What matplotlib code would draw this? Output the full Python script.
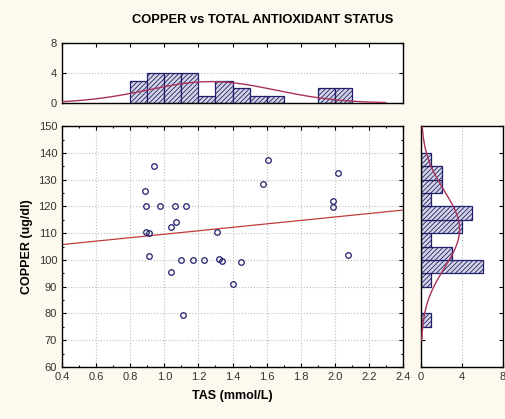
import numpy as np
import matplotlib
matplotlib.use("Agg")
import matplotlib.pyplot as plt
from matplotlib.ticker import MultipleLocator, FormatStrFormatter

# scatter values
tas = [0.884, 0.892, 0.942, 0.974, 1.06, 1.128, 0.89, 0.913, 1.042, 1.071,
       1.307, 0.913, 1.10, 1.171, 1.235, 1.319, 1.338, 1.45, 1.042, 1.403,
       1.112, 1.608, 1.58, 2.016, 1.988, 1.988, 2.076]
copper = [125.6, 120, 135, 120, 120, 120, 110.6, 110, 112.3, 114.1,
          110.5, 101.3, 100, 100, 100, 100.4, 99.7, 99.2, 95.5, 91,
          79.6, 137.3, 128.5, 132.6, 122.2, 119.9, 102]

# histogram of TAS (bin width 0.1)
tas_bins = [0.8, 0.9, 1.0, 1.1, 1.2, 1.3, 1.4, 1.5, 1.6, 1.9, 2.0]
tas_counts = [3, 4, 4, 4, 1, 3, 2, 1, 1, 2, 2]

# histogram of COPPER (bin width 5)
cu_bins = [75, 90, 95, 100, 105, 110, 115, 120, 125, 130, 135]
cu_counts = [1, 1, 6, 3, 1, 4, 5, 1, 2, 2, 1]

title = "COPPER vs TOTAL ANTIOXIDANT STATUS"
xlabel = "TAS (mmol/L)"
ylabel = "COPPER (ug/dl)"

plt.rcParams['font.family'] = ['Liberation Sans', 'DejaVu Sans']
plt.rcParams['hatch.linewidth'] = 0.6

bg = '#fdf9ee'
navy = '#1f1f6b'
bar_fill = '#d4d4e4'
red = '#c23a3a'
curve = '#a8325a'
tick_col = '#333333'
grid_col = '#bdbdbd'

fig = plt.figure(figsize=(5.05, 4.19), dpi=100, facecolor=bg)
ax = fig.add_axes([0.1228, 0.1241, 0.6752, 0.5749])
axt = fig.add_axes([0.1228, 0.754, 0.6752, 0.143])
axr = fig.add_axes([0.834, 0.1241, 0.162, 0.5749])

# main scatter
ax.plot(tas, copper, 'o', mfc='none', mec=navy, ms=4, mew=0.9, zorder=3)
k, b = np.polyfit(tas, copper, 1)
xs = np.array([0.4, 2.4])
ax.plot(xs, k * xs + b, color=red, lw=0.9, zorder=2)
ax.set_xlim(0.4, 2.4)
ax.set_ylim(60, 150)
ax.xaxis.set_major_locator(MultipleLocator(0.2))
ax.xaxis.set_major_formatter(FormatStrFormatter('%.1f'))
ax.xaxis.set_minor_locator(MultipleLocator(0.1))
ax.yaxis.set_major_locator(MultipleLocator(10))
ax.yaxis.set_minor_locator(MultipleLocator(5))
ax.grid(True, which='major', ls=':', color=grid_col, lw=0.8)
ax.tick_params(which='both', direction='in', top=True, right=True,
               colors='black', labelcolor=tick_col, labelsize=8, width=0.8)
ax.tick_params(which='major', length=3)
ax.tick_params(which='minor', length=1.5)
ax.set_xlabel(xlabel, fontsize=9, fontweight='bold', labelpad=6)
ax.set_ylabel(ylabel, fontsize=9, fontweight='bold', labelpad=4)

# top histogram
for x0, c in zip(tas_bins, tas_counts):
    axt.bar(x0, c, width=0.1, align='edge', color=bar_fill, zorder=2)
    axt.bar(x0, c, width=0.1, align='edge', fill=False, edgecolor=navy,
            lw=0.9, hatch='///////', zorder=2)
mt, st = np.mean(tas), np.std(tas, ddof=1)
xt = np.linspace(0.4, 2.3, 200)
axt.plot(xt, len(tas) * 0.1 * np.exp(-0.5 * ((xt - mt) / st) ** 2) / (st * np.sqrt(2 * np.pi)),
         color=curve, lw=1.0, zorder=3)
axt.set_xlim(0.4, 2.4)
axt.set_ylim(0, 8)
axt.set_yticks([0, 4, 8])
axt.xaxis.set_major_locator(MultipleLocator(0.2))
axt.grid(True, axis='y', ls=':', color=grid_col, lw=0.8)
axt.tick_params(axis='x', direction='in', top=True, bottom=False,
                labelbottom=False, length=3, width=0.8)
axt.tick_params(axis='y', direction='in', right=True, length=3, width=0.8,
                labelcolor=tick_col, labelsize=8)

# right histogram
for y0, c in zip(cu_bins, cu_counts):
    axr.barh(y0, c, height=5, align='edge', color=bar_fill, zorder=2)
    axr.barh(y0, c, height=5, align='edge', fill=False, edgecolor=navy,
             lw=0.9, hatch='///////', zorder=2)
mc, sc = np.mean(copper), np.std(copper, ddof=1)
yc = np.linspace(70, 150, 200)
axr.plot(len(copper) * 5 * np.exp(-0.5 * ((yc - mc) / sc) ** 2) / (sc * np.sqrt(2 * np.pi)), yc,
         color=curve, lw=1.0, zorder=3)
axr.set_ylim(60, 150)
axr.set_xlim(0, 8)
axr.set_xticks([0, 4, 8])
axr.yaxis.set_major_locator(MultipleLocator(10))
axr.grid(True, axis='x', ls=':', color=grid_col, lw=0.8)
axr.tick_params(axis='y', direction='in', left=True, right=True,
                labelleft=False, length=3, width=0.8)
axr.tick_params(axis='x', direction='in', length=3, width=0.8,
                labelcolor=tick_col, labelsize=8)

for a in (ax, axt, axr):
    a.set_facecolor('white')
    for s in a.spines.values():
        s.set_linewidth(1.0)

fig.text(0.521, 0.952, title, ha='center', va='center',
         fontsize=9.3, fontweight='bold')

fig.savefig("out.png", dpi=100, facecolor=bg)
